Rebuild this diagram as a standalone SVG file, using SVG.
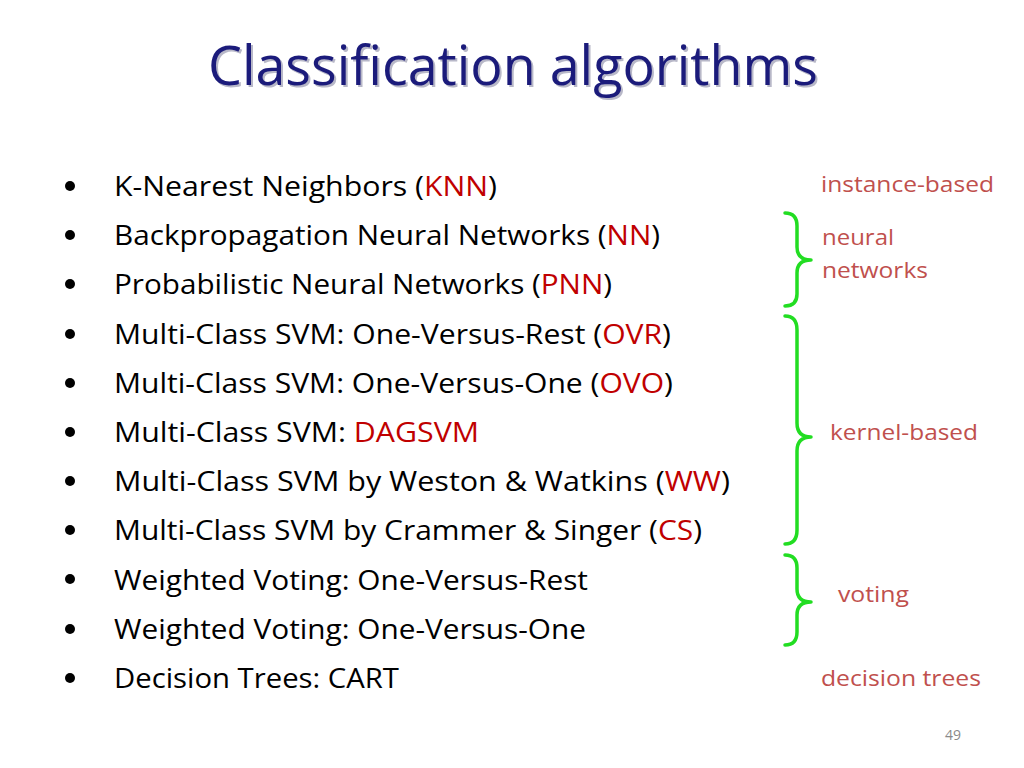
<svg xmlns="http://www.w3.org/2000/svg" width="1024" height="768" viewBox="0 0 1024 768">
<defs>
<style>
.t{font-family:"Open Sans","Noto Sans","Liberation Sans",sans-serif;font-size:55px;fill:#1B1B7B}
.ts{font-family:"Open Sans","Noto Sans","Liberation Sans",sans-serif;font-size:55px;fill:#b8b8c8}
.b{font-family:"Open Sans","Noto Sans","Liberation Sans",sans-serif;font-size:27px;fill:#000}
.r{fill:#C00000}
.l{font-family:"Open Sans","Noto Sans","Liberation Sans",sans-serif;font-size:21px;fill:#C0504D}
.br{fill:none;stroke:#22DD22;stroke-width:3.5;stroke-linecap:round;stroke-linejoin:round}
.pg{font-family:"Open Sans","Noto Sans","Liberation Sans",sans-serif;font-size:14px;fill:#8a8a8a}
</style>
</defs>
<rect width="1024" height="768" fill="#fff"/>
<g id="title">
<text class="ts" x="210" y="87" textLength="610" lengthAdjust="spacingAndGlyphs">Classification algorithms</text>
<text class="t" x="208" y="85" textLength="610" lengthAdjust="spacingAndGlyphs">Classification algorithms</text>
</g>
<g id="bullets" fill="#000">
<circle cx="70" cy="186" r="5"/>
<circle cx="70" cy="235" r="5"/>
<circle cx="70" cy="284" r="5"/>
<circle cx="70" cy="334" r="5"/>
<circle cx="70" cy="383" r="5"/>
<circle cx="70" cy="432" r="5"/>
<circle cx="70" cy="481" r="5"/>
<circle cx="70" cy="530" r="5"/>
<circle cx="70" cy="579" r="5"/>
<circle cx="70" cy="629" r="5"/>
<circle cx="70" cy="678" r="5"/>
</g>
<g id="items">
<text class="b" x="114" y="196" textLength="383" lengthAdjust="spacingAndGlyphs">K-Nearest Neighbors (<tspan class="r">KNN</tspan>)</text>
<text class="b" x="114" y="245" textLength="546" lengthAdjust="spacingAndGlyphs">Backpropagation Neural Networks (<tspan class="r">NN</tspan>)</text>
<text class="b" x="114" y="294" textLength="498" lengthAdjust="spacingAndGlyphs">Probabilistic Neural Networks (<tspan class="r">PNN</tspan>)</text>
<text class="b" x="114" y="344" textLength="557" lengthAdjust="spacingAndGlyphs">Multi-Class SVM: One-Versus-Rest (<tspan class="r">OVR</tspan>)</text>
<text class="b" x="114" y="393" textLength="559" lengthAdjust="spacingAndGlyphs">Multi-Class SVM: One-Versus-One (<tspan class="r">OVO</tspan>)</text>
<text class="b" x="114" y="442" textLength="365" lengthAdjust="spacingAndGlyphs">Multi-Class SVM: <tspan class="r">DAGSVM</tspan></text>
<text class="b" x="114" y="491" textLength="616" lengthAdjust="spacingAndGlyphs">Multi-Class SVM by Weston &amp; Watkins (<tspan class="r">WW</tspan>)</text>
<text class="b" x="114" y="540" textLength="588" lengthAdjust="spacingAndGlyphs">Multi-Class SVM by Crammer &amp; Singer (<tspan class="r">CS</tspan>)</text>
<text class="b" x="114" y="590" textLength="474" lengthAdjust="spacingAndGlyphs">Weighted Voting: One-Versus-Rest</text>
<text class="b" x="114" y="639" textLength="472" lengthAdjust="spacingAndGlyphs">Weighted Voting: One-Versus-One</text>
<text class="b" x="114" y="688" textLength="285" lengthAdjust="spacingAndGlyphs">Decision Trees: CART</text>
</g>
<g id="connectors">
<path class="br" d="M785,213 Q797,213 797,226 L797,247 Q797,260 811,260 Q797,260 797,273 L797,294 Q797,306 785,306"/>
<path class="br" d="M785,316 Q797,316 797,330 L797,423 Q797,437 811,437 Q797,437 797,451 L797,530 Q797,544 785,544"/>
<path class="br" d="M785,555 Q797,555 797,568 L797,589 Q797,602 811,602 Q797,602 797,615 L797,632 Q797,645 785,645"/>
</g>
<g id="labels">
<text class="l" x="821" y="192" textLength="173" lengthAdjust="spacingAndGlyphs">instance-based</text>
<text class="l" x="822" y="245" textLength="72" lengthAdjust="spacingAndGlyphs">neural</text>
<text class="l" x="822" y="278" textLength="106" lengthAdjust="spacingAndGlyphs">networks</text>
<text class="l" x="830" y="440" textLength="148" lengthAdjust="spacingAndGlyphs">kernel-based</text>
<text class="l" x="838" y="602" textLength="71" lengthAdjust="spacingAndGlyphs">voting</text>
<text class="l" x="821" y="686" textLength="160" lengthAdjust="spacingAndGlyphs">decision trees</text>
</g>
<text class="pg" x="945" y="740">49</text>
</svg>
